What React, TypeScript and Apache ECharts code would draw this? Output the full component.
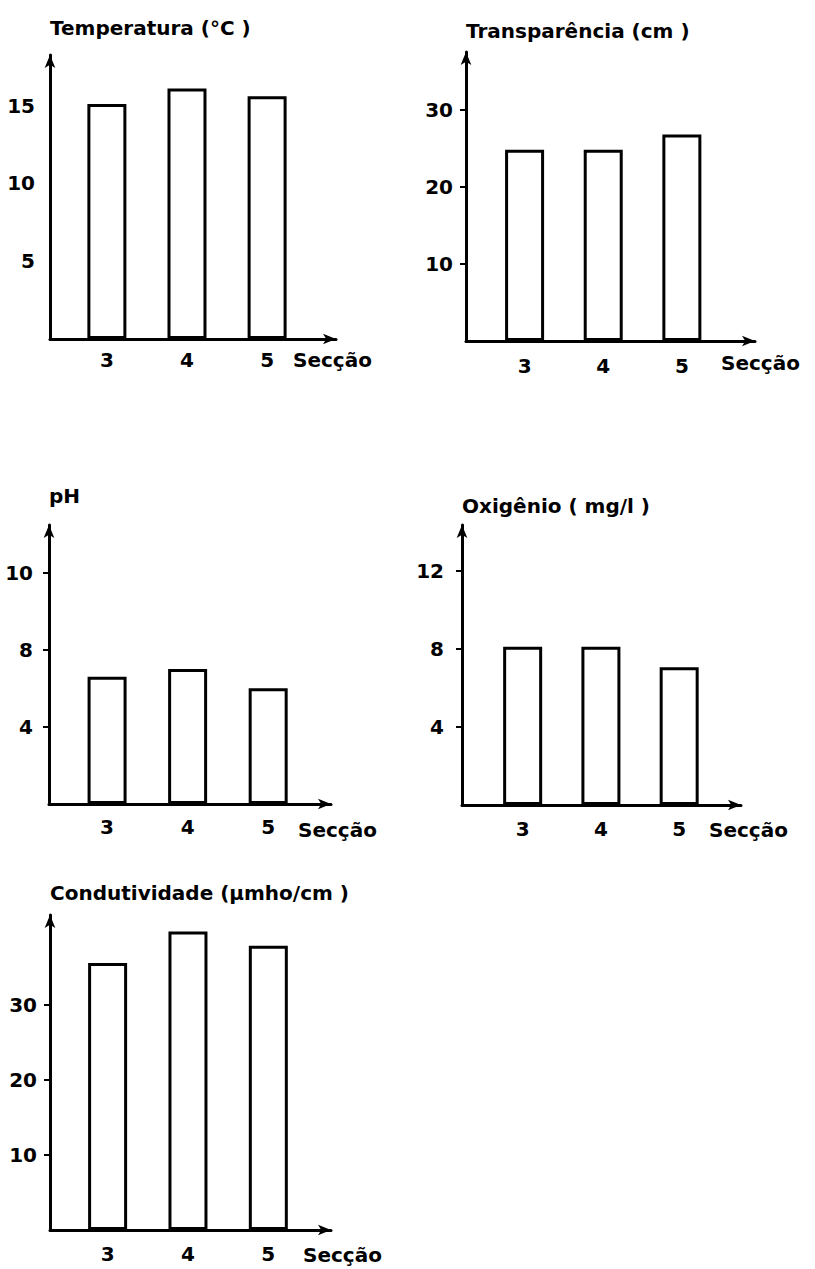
import React, { useEffect, useRef } from "react";
import * as echarts from "echarts";

// ---- data ----
const categories = [3, 4, 5];
const categoryLabels = ["3", "4", "5"];
const xName = "Secção";

const temperatura = [15.1, 16.1, 15.6];
const transparencia = [24.8, 24.8, 26.8];
const ph = [6.6, 7.0, 6.0];
const oxigenio = [8.1, 8.1, 7.05];
const condutividade = [35.6, 39.8, 37.9];

const temperaturaTicks = [5, 10, 15];
const temperaturaTickLabels = ["5", "10", "15"];
const transparenciaTicks = [10, 20, 30];
const transparenciaTickLabels = ["10", "20", "30"];
const phTicks = [4, 8, 12];
const phTickLabels = ["4", "8", "10"];
const oxigenioTicks = [4, 8, 12];
const oxigenioTickLabels = ["4", "8", "12"];
const condutividadeTicks = [10, 20, 30];
const condutividadeTickLabels = ["10", "20", "30"];

const titles = [
  "Temperatura (°C )",
  "Transparência (cm )",
  "pH",
  "Oxigênio ( mg/l )",
  "Condutividade (μmho/cm )",
];

// ---- layout (pixels / axis extents) ----
const panels = [
  { title: titles[0], values: temperatura, ticks: temperaturaTicks, tickLabels: temperaturaTickLabels, step: 5, showTicks: false,
    left: 50, top: 55, right: 336, bottom: 339, yMax: 18.25, xMin: 2.29, xMax: 5.86, titleGap: 27, nameGap: -43, nameDy: 21, yMargin: 15, xMargin: 11 },
  { title: titles[1], values: transparencia, ticks: transparenciaTicks, tickLabels: transparenciaTickLabels, step: 10, showTicks: true,
    left: 466, top: 52, right: 755, bottom: 341, yMax: 37.5, xMin: 2.255, xMax: 5.93, titleGap: 21, nameGap: -34, nameDy: 22, yMargin: 13, xMargin: 15 },
  { title: titles[2], values: ph, ticks: phTicks, tickLabels: phTickLabels, step: 4, showTicks: true,
    left: 49, top: 525, right: 331, bottom: 804, yMax: 14.47, xMin: 2.279, xMax: 5.78, titleGap: 29, nameGap: -33, nameDy: 26, yMargin: 16, xMargin: 13 },
  { title: titles[3], values: oxigenio, ticks: oxigenioTicks, tickLabels: oxigenioTickLabels, step: 4, showTicks: true,
    left: 462, top: 525, right: 741, bottom: 805, yMax: 14.33, xMin: 2.225, xMax: 5.79, titleGap: 19, nameGap: -32, nameDy: 25, yMargin: 18, xMargin: 14 },
  { title: titles[4], values: condutividade, ticks: condutividadeTicks, tickLabels: condutividadeTickLabels, step: 10, showTicks: true,
    left: 50, top: 915, right: 331, bottom: 1230, yMax: 42.0, xMin: 2.283, xMax: 5.78, titleGap: 22, nameGap: -28, nameDy: 25, yMargin: 13, xMargin: 14 },
];

const FONT = "'DejaVu Sans', sans-serif";
const INK = "#000";
const TEXT_SIZE = 20;
const DIGIT_SIZE = 20;

function buildOption() {
  const axisLine = {
    show: true,
    onZero: false,
    symbol: ["none", "arrow"],
    symbolSize: [8, 13],
    lineStyle: { color: INK, width: 3 },
  };
  const grid: any[] = [];
  const xAxis: any[] = [];
  const yAxis: any[] = [];
  const series: any[] = [];
  panels.forEach((p, i) => {
    grid.push({
      left: p.left,
      top: p.top,
      width: p.right - p.left,
      height: p.bottom - p.top,
      containLabel: false,
      outerBoundsMode: "none",
    });
    xAxis.push({
      type: "value",
      gridIndex: i,
      min: p.xMin,
      max: p.xMax,
      splitLine: { show: false },
      axisLine,
      axisTick: { show: false },
      axisLabel: {
        customValues: categories,
        margin: p.xMargin,
        color: INK,
        fontSize: DIGIT_SIZE,
        fontWeight: "bold",
        fontFamily: FONT,
        formatter: (v: number) => {
          const k = categories.indexOf(v);
          return k >= 0 ? categoryLabels[k] : "";
        },
      },
      name: xName,
      nameLocation: "end",
      nameGap: p.nameGap,
      nameTextStyle: {
        color: INK,
        fontSize: TEXT_SIZE,
        fontWeight: "bold",
        fontFamily: FONT,
        align: "left",
        verticalAlign: "top",
        lineHeight: p.nameDy * 2,
      },
    });
    yAxis.push({
      type: "value",
      gridIndex: i,
      min: 0,
      max: p.yMax,
      interval: p.step,
      splitLine: { show: false },
      axisLine,
      axisTick: {
        show: p.showTicks,
        customValues: p.ticks,
        length: 6,
        lineStyle: { color: INK, width: 2 },
      },
      axisLabel: {
        customValues: p.ticks,
        margin: p.yMargin,
        color: INK,
        fontSize: DIGIT_SIZE,
        fontWeight: "bold",
        fontFamily: FONT,
        formatter: (v: number) => {
          const k = p.ticks.indexOf(v);
          return k >= 0 ? p.tickLabels[k] : "";
        },
      },
      name: p.title,
      nameLocation: "end",
      nameGap: p.titleGap,
      nameTextStyle: {
        color: INK,
        fontSize: TEXT_SIZE,
        fontWeight: "bold",
        fontFamily: FONT,
        align: "left",
        verticalAlign: "middle",
      },
    });
    series.push({
      type: "bar",
      xAxisIndex: i,
      yAxisIndex: i,
      barWidth: 39,
      silent: true,
      itemStyle: { color: "#fff", borderColor: INK, borderWidth: 3 },
      data: categories.map((c, j) => [c, p.values[j]]),
    });
  });
  return { animation: false, backgroundColor: "#fff", grid, xAxis, yAxis, series };
}

export default function App() {
  const ref = useRef<HTMLDivElement>(null);
  useEffect(() => {
    document.body.style.margin = "0";
    if (!ref.current) return;
    const chart = echarts.init(ref.current, null, { renderer: "svg" });
    chart.setOption(buildOption());
    return () => chart.dispose();
  }, []);
  return <div ref={ref} style={{ width: 815, height: 1269 }} />;
}
